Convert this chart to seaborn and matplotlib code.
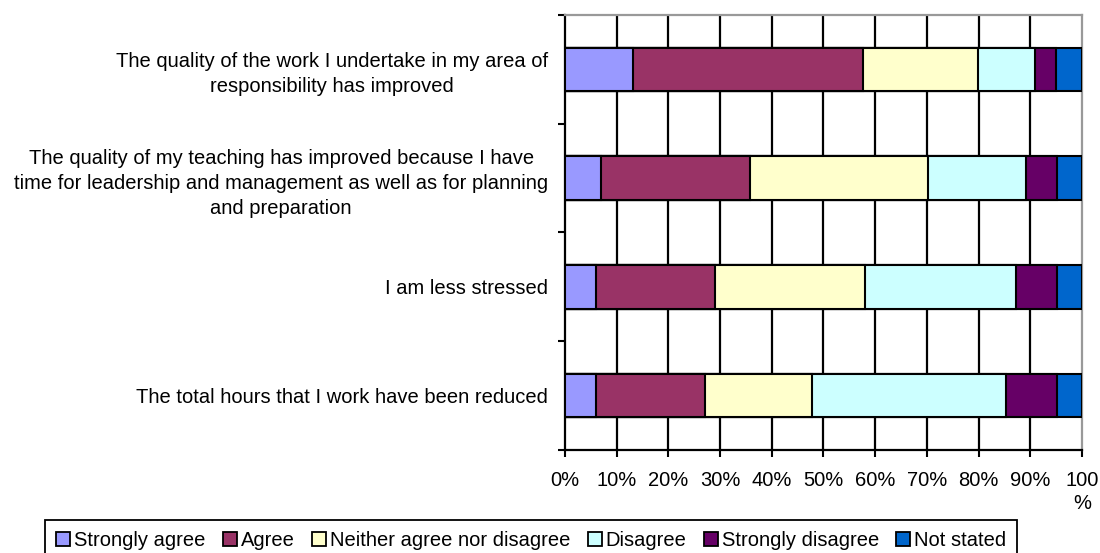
import numpy as np
import pandas as pd
import seaborn as sns
import matplotlib.pyplot as plt
from matplotlib.patches import Patch

# data (percent of respondents)
statements = [
    "The quality of the work I undertake in my area of\nresponsibility has improved",
    "The quality of my teaching has improved because I have\ntime for leadership and management as well as for planning\nand preparation",
    "I am less stressed",
    "The total hours that I work have been reduced",
]
responses = ["Strongly agree", "Agree", "Neither agree nor disagree",
             "Disagree", "Strongly disagree", "Not stated"]
strongly_agree = [13.1, 7.0, 6.1, 6.0]
agree = [44.5, 28.8, 23.0, 21.0]
neither = [22.2, 34.5, 28.9, 20.7]
disagree = [11.2, 18.9, 29.2, 37.6]
strongly_disagree = [4.0, 6.0, 8.0, 9.9]
not_stated = [5.0, 4.8, 4.8, 4.8]
colors = ["#9999FF", "#993366", "#FFFFCC", "#CCFFFF", "#660066", "#0066CC"]

sns.set_style("white")
plt.rcParams['font.family'] = ['Liberation Sans', 'DejaVu Sans']
plt.rcParams['text.color'] = 'black'
plt.rcParams['xtick.color'] = 'black'
plt.rcParams['ytick.color'] = 'black'
fs = 14.5

values = np.array([strongly_agree, agree, neither, disagree,
                   strongly_disagree, not_stated])
cum = values.cumsum(axis=0)

fig = plt.figure(figsize=(11, 5.53), dpi=100)
ax = fig.add_axes([0.5136, 0.1863, 0.4700, 0.7866])

# stacked bars: draw cumulative totals from the widest down
for i in reversed(range(len(responses))):
    df = pd.DataFrame({"statement": statements, "value": cum[i]})
    sns.barplot(data=df, x="value", y="statement", color=colors[i],
                saturation=1, edgecolor="black", linewidth=1.5,
                width=0.4, ax=ax, zorder=3)

ax.set_xlim(0, 100)
ax.set_ylim(3.5, -0.5)
ax.set_xlabel("")
ax.set_ylabel("")

ticks = np.arange(0, 101, 10)
ax.set_xticks(ticks)
ax.set_xticklabels([f"{t}%" for t in ticks[:-1]] + ["100\n%"], fontsize=fs,
                   va="top", linespacing=1.3)
ax.tick_params(axis="x", direction="out", length=5, width=1.5,
               color="black", pad=10, bottom=True)

ax.set_yticks(range(len(statements)))
ax.set_yticklabels(statements, fontsize=fs, multialignment="center",
                   linespacing=1.4)
ax.tick_params(axis="y", which="major", length=0, pad=12)
ax.set_yticks(np.arange(-0.5, 4, 1), minor=True)
ax.tick_params(axis="y", which="minor", direction="out", length=5,
               width=1.5, color="black", left=True)

for t in ticks[1:-1]:
    ax.axvline(t, color="black", linewidth=1.6, zorder=1)

for side in ["left", "bottom"]:
    ax.spines[side].set_color("black")
    ax.spines[side].set_linewidth(1.6)
for side in ["top", "right"]:
    ax.spines[side].set_color("#999999")
    ax.spines[side].set_linewidth(1.6)

handles = [Patch(facecolor=c, edgecolor="black", linewidth=1.3)
           for c in colors]
leg = fig.legend(handles, responses, loc="upper center",
                 bbox_to_anchor=(0.483, 0.06), ncol=6, fontsize=fs,
                 frameon=True, fancybox=False, edgecolor="black",
                 framealpha=1, handlelength=0.7, handleheight=0.7,
                 handletextpad=0.2, columnspacing=0.85, borderpad=0.55,
                 borderaxespad=0)
leg.get_frame().set_linewidth(1.3)

fig.savefig("out.png", dpi=100)
